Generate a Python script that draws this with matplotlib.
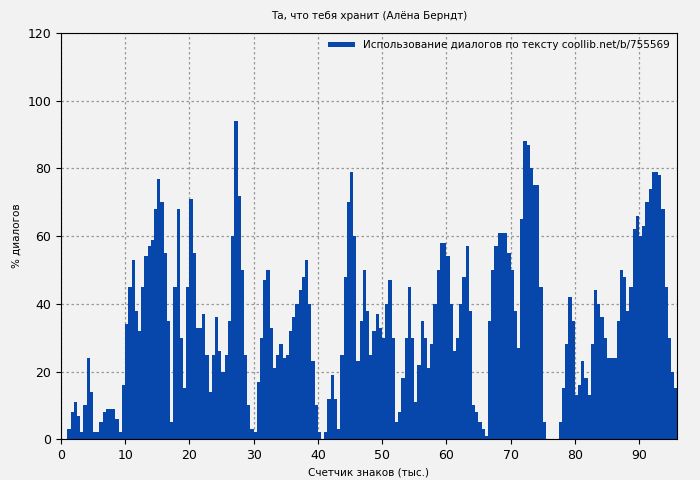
import numpy as np
import matplotlib
matplotlib.use("Agg")
import matplotlib.pyplot as plt

x_start = 0.5
x_step = 0.5
values = [0,3,8,11,7,2,10,24,14,2,2,5,8,9,9,9,6,2,16,34,
          45,53,38,32,45,54,57,59,68,77,70,55,35,5,45,68,30,15,45,71,
          55,33,33,37,25,14,25,36,26,20,25,35,60,94,72,50,25,10,3,2,
          17,30,47,50,33,21,25,28,24,25,32,36,40,44,48,53,40,23,10,2,
          0,2,12,19,12,3,25,48,70,79,60,23,35,50,38,25,32,37,33,30,
          40,47,30,5,8,18,30,45,30,11,22,35,30,21,28,40,50,58,58,54,
          40,26,30,40,48,57,38,10,8,5,3,1,35,50,57,61,61,61,55,50,
          38,27,65,88,87,80,75,75,45,5,0,0,0,0,5,15,28,42,35,13,
          16,23,18,13,28,44,40,36,30,24,24,24,35,50,48,38,45,62,66,60,
          63,70,74,79,79,78,68,45,30,20,15]
xs = x_start + x_step*np.arange(len(values))

title = "Та, что тебя хранит (Алёна Берндт)"
legend_label = "Использование диалогов по тексту coollib.net/b/755569"
color = "#0747ab"

fig = plt.figure(figsize=(7, 4.8), dpi=100, facecolor="#f2f2f2")
ax = fig.add_axes([0.087, 0.085, 0.88, 0.846], facecolor="#f2f2f2")
ax.bar(xs, values, width=x_step, align="edge", color=color, linewidth=0, label=legend_label)
ax.set_xlim(0, 95.9)
ax.set_ylim(0, 120)
ax.set_xticks(range(0, 91, 10))
ax.set_yticks(range(0, 121, 20))
ax.tick_params(labelsize=9, direction="out")
ax.grid(True, color="#999999", linestyle=(0, (2, 2)), linewidth=0.9)
ax.set_axisbelow(True)
ax.set_title(title, fontsize=7.5, pad=10)
ax.set_xlabel("Счетчик знаков (тыс.)", fontsize=7.5)
ax.set_ylabel("% диалогов", fontsize=7.5)
leg = ax.legend(loc="upper right", fontsize=7.5, frameon=False, handlelength=2.5, handleheight=0.3,
                borderaxespad=0.3)
fig.savefig("out.png", dpi=100, facecolor=fig.get_facecolor())
